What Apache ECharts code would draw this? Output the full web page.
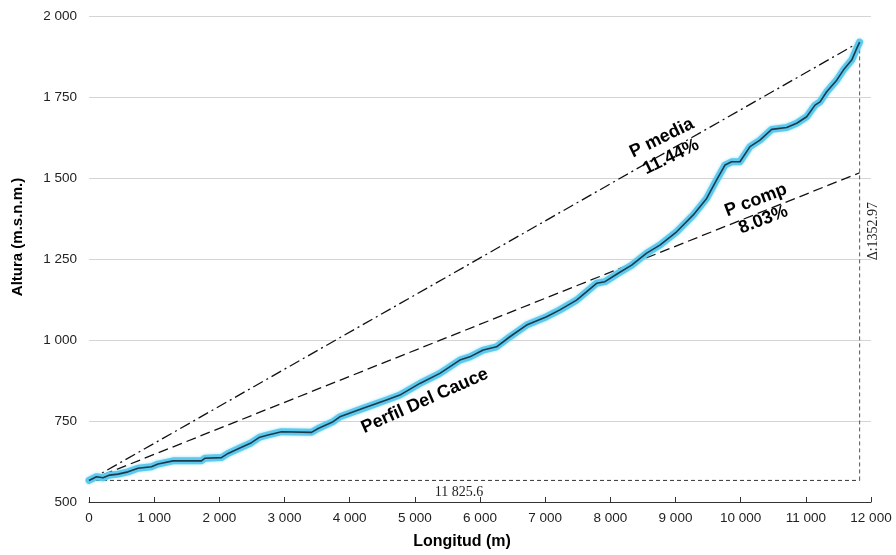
<!DOCTYPE html>
<html>
<head>
<meta charset="utf-8">
<script src="https://cdn.jsdelivr.net/npm/echarts@6/dist/echarts.min.js"></script>
<style>html,body{margin:0;padding:0;background:#fff}#c{width:896px;height:555px}</style>
</head>
<body>
<div id="c"></div>
<script>
// ---- data ----
const xTicks = [0, 12000, 1000];          // min, max, interval (m)
const yTicks = [500, 2000, 250];          // min, max, interval (m.s.n.m.)
const profileX = [0,114,215,318,445,599,752,958,1059,1290,1725,1776,2032,2134,2340,2493,2620,2748,2954,3414,3516,3746,3849,4206,4565,4770,5077,5384,5691,5844,6049,6254,6458,6715,7022,7226,7482,7789,7917,8121,8327,8557,8761,9017,9273,9478,9631,9759,9862,9989,10143,10296,10476,10706,10860,11013,11141,11218,11320,11474,11576,11704,11781,11825.6];
const profileY = [566.6,578,575,583,586,593,604,609,617,627,627,635,637,650,669,683,700,707,717,715,727,748,763,789,815,830,866,897,938,948,969,979,1010,1046,1072,1093,1123,1175,1180,1206,1231,1268,1293,1334,1386,1437,1494,1540,1550,1550,1597,1617,1650,1656,1669,1689,1725,1735,1766,1802,1833,1864,1900,1919.57];
const mediaLineX = [0, 11825.6];
const mediaLineY = [566.6, 1919.57];
const compLineX = [0, 11825.6];
const compLineY = [566.6, 1516.2];
const baseLineX = [0, 11825.6];
const baseLineY = [566.6, 566.6];
const deltaLineX = [11825.6, 11825.6];
const deltaLineY = [566.6, 1919.57];
const labelTexts = ['P media\n11.44%', 'P comp\n8.03%', 'Perfil Del Cauce'];
const labelX = [8860, 10290, 5153];
const labelY = [1594, 1401, 812];
const labelRot = [26, 21, 24];
const dimTexts = ['11 825.6', 'Δ:1352.97'];
const dimX = [5676, 12029];
const dimY = [531, 1336];
const dimRot = [0, 90];

// ---- chart ----
const zip = (a, b) => a.map((v, i) => [v, b[i]]);
const fmt = v => String(v).replace(/\B(?=(\d{3})+(?!\d))/g, ' ');
const SANS = 'Liberation Sans, Arial, sans-serif';
const SERIF = 'Liberation Serif, Times New Roman, serif';
const chart = echarts.init(document.getElementById('c'), null, {renderer: 'canvas'});
const refLine = (x, y, type, w, color, z) => ({
  type: 'line', data: zip(x, y), symbol: 'none', silent: true, z: z,
  lineStyle: {color: color, width: w, type: type}
});
chart.setOption({
  animation: false,
  grid: {left: 89, right: 25, top: 16, bottom: 53},
  xAxis: {
    type: 'value', min: xTicks[0], max: xTicks[1], interval: xTicks[2],
    name: 'Longitud (m)', nameLocation: 'middle', nameGap: 32,
    nameTextStyle: {fontFamily: SANS, fontSize: 16, fontWeight: 'bold', color: '#000', padding: [0, 36, 0, 0]},
    axisLine: {show: true, lineStyle: {color: '#333', width: 1}},
    axisTick: {show: true, inside: true, length: 5, lineStyle: {color: '#333'}},
    axisLabel: {fontFamily: SANS, fontSize: 13.5, color: '#222', margin: 9, formatter: fmt},
    splitLine: {show: false}
  },
  yAxis: {
    type: 'value', min: yTicks[0], max: yTicks[1], interval: yTicks[2],
    name: 'Altura (m.s.n.m.)', nameLocation: 'middle', nameGap: 64,
    nameTextStyle: {fontFamily: SANS, fontSize: 15, fontWeight: 'bold', color: '#000', padding: [0, 0, 0, 44]},
    axisLine: {show: false}, axisTick: {show: false},
    axisLabel: {fontFamily: SANS, fontSize: 13.5, color: '#222', margin: 12, formatter: fmt},
    splitLine: {show: true, lineStyle: {color: '#d4d4d4', width: 1}}
  },
  series: [
    refLine(baseLineX, baseLineY, [4, 3], 1, '#333', 2),
    refLine(deltaLineX, deltaLineY, [4, 3], 1, '#555', 2),
    refLine(mediaLineX, mediaLineY, [11, 4, 2, 4], 1.3, '#111', 3),
    refLine(compLineX, compLineY, [10, 5], 1.3, '#111', 3),
    {
      type: 'line', data: zip(profileX, profileY), symbol: 'none', silent: true, z: 4,
      lineStyle: {color: '#5cc9ee', width: 7, shadowColor: 'rgba(92,201,238,0.6)', shadowBlur: 3, cap: 'round', join: 'round'}
    },
    {
      type: 'line', data: zip(profileX, profileY), symbol: 'none', silent: true, z: 5,
      lineStyle: {color: '#1c3a4c', width: 1.6, join: 'round'}
    },
    {
      type: 'scatter', symbolSize: 0, silent: true, clip: false, z: 6,
      itemStyle: {opacity: 1},
      data: labelTexts.map((t, i) => ({
        value: [labelX[i], labelY[i]],
        label: {show: true, position: 'inside', formatter: t, rotate: labelRot[i],
          fontFamily: SANS, fontSize: 18, fontWeight: 'bold', color: '#000', lineHeight: 21, opacity: 1,
          textBorderWidth: 0, align: 'center', verticalAlign: 'middle'}
      }))
    },
    {
      type: 'scatter', symbolSize: 0, silent: true, clip: false, z: 6,
      itemStyle: {opacity: 1},
      data: dimTexts.map((t, i) => ({
        value: [dimX[i], dimY[i]],
        label: {show: true, position: 'inside', formatter: t, rotate: dimRot[i], opacity: 1,
          fontFamily: SERIF, fontSize: 14, color: '#222', textBorderWidth: 0, align: 'center', verticalAlign: 'middle'}
      }))
    }
  ]
});
</script>
</body>
</html>
